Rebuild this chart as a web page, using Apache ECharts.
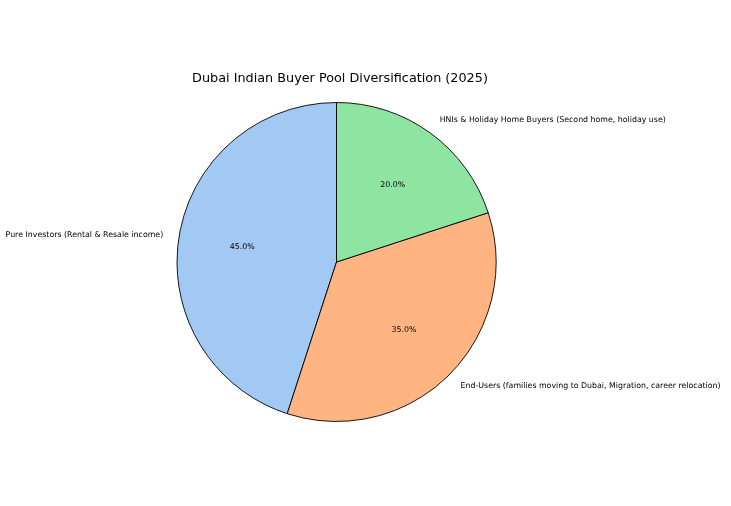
<!DOCTYPE html>
<html>
<head>
<meta charset="utf-8">
<script src="https://cdn.jsdelivr.net/npm/echarts@6/dist/echarts.min.js"></script>
<style>
  html, body { margin: 0; padding: 0; background: #fff; }
  #chart { width: 731px; height: 506px; }
</style>
</head>
<body>
<div id="chart"></div>
<script>
const categories = [
  'Pure Investors (Rental & Resale income)',
  'End-Users (families moving to Dubai, Migration, career relocation)',
  'HNIs & Holiday Home Buyers (Second home, holiday use)'
];
const shares = [45, 35, 20];
const colors = ['#a1c9f4', '#ffb482', '#8de5a1'];

const chart = echarts.init(document.getElementById('chart'));

const R = 159.5;
const center = [336.5, 262];

const pieData = categories.map(function (name, i) {
  return { name: name, value: shares[i], itemStyle: { color: colors[i] } };
});

var option = {
  animation: false,
  title: {
    text: 'Dubai Indian Buyer Pool Diversification (2025)',
    left: 335,
    top: 67,
    textAlign: 'center',
    textStyle: {
      fontFamily: 'DejaVu Sans',
      fontSize: 12.8,
      fontWeight: 'normal',
      color: '#000'
    }
  },
  series: [{
    // wedges + category labels (at 1.1 r)
    type: 'pie',
    center: center,
    radius: [0, R],
    startAngle: 90,
    clockwise: false,
    avoidLabelOverlap: false,
    itemStyle: { borderColor: '#000', borderWidth: 0.9 },
    label: {
      show: true,
      position: 'outside',
      fontFamily: 'DejaVu Sans',
      fontSize: 7.85,
      color: '#000',
      distanceToLabelLine: 0
    },
    labelLine: { show: false, length: R * 0.1, length2: 0 },
    emphasis: { disabled: true },
    data: pieData
  }, {
    // percentage labels near 0.6 r
    type: 'pie',
    center: center,
    radius: [R * 0.16, R],
    startAngle: 90,
    clockwise: false,
    silent: true,
    itemStyle: { color: 'rgba(0,0,0,0)', borderWidth: 0 },
    label: {
      show: true,
      position: 'inside',
      fontFamily: 'DejaVu Sans',
      fontSize: 7.85,
      color: '#000',
      formatter: function (p) { return p.value.toFixed(1) + '%'; }
    },
    labelLine: { show: false },
    data: categories.map(function (name, i) { return { name: name, value: shares[i] }; })
  }]
};

chart.setOption(option);
</script>
</body>
</html>
